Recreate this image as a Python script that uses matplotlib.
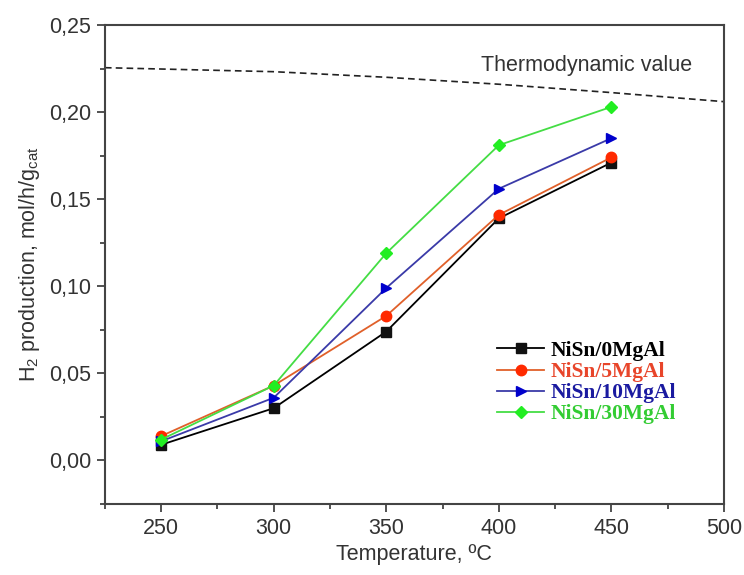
import matplotlib
matplotlib.use("Agg")
import matplotlib.pyplot as plt
from matplotlib.ticker import MultipleLocator, FuncFormatter

temps = [250, 300, 350, 400, 450]
ni0 = [0.009, 0.030, 0.074, 0.139, 0.171]
ni5 = [0.014, 0.043, 0.083, 0.141, 0.174]
ni10 = [0.011, 0.036, 0.099, 0.156, 0.185]
ni30 = [0.012, 0.043, 0.119, 0.181, 0.203]

thermo_t = [225, 300, 350, 400, 450, 500]
thermo_v = [0.2255, 0.2232, 0.2200, 0.2160, 0.2112, 0.2060]

labels = ["NiSn/0MgAl", "NiSn/5MgAl", "NiSn/10MgAl", "NiSn/30MgAl"]

plt.rcParams['font.family'] = ['Liberation Sans', 'DejaVu Sans']
plt.rcParams['mathtext.default'] = 'regular'

fig = plt.figure(figsize=(7.44, 5.75), dpi=100)
ax = fig.add_axes([0.141, 0.1235, 0.832, 0.833])

ax.plot(thermo_t, thermo_v, linestyle=(0, (4, 2.5)), color='#222222', lw=1.2)
ax.text(439, 0.2268, "Thermodynamic value", ha='center', va='center', fontsize=15.5, color='#333333')

series = [
    (ni0, 's', '#000000', '#111111', '#000000'),
    (ni5, 'o', '#e0602a', '#ff2a00', '#e8452a'),
    (ni10, '>', '#3a3aa8', '#0000cc', '#1a1aa0'),
    (ni30, 'D', '#44dd44', '#22ee22', '#33cc33'),
]
handles = []
for (vals, m, lc, mc, tc), lab in zip(series, labels):
    ms = 7.5 if m != 'D' else 6.5
    h, = ax.plot(temps, vals, marker=m, color=lc, markerfacecolor=mc,
                 markeredgecolor=mc, markersize=ms, lw=1.3, label=lab)
    handles.append(h)

leg = ax.legend(handles=handles, loc='upper left', bbox_to_anchor=(0.63, 0.345),
                frameon=False, handlelength=2.2, handletextpad=0.3, borderpad=0.1,
                borderaxespad=0.0,
                labelspacing=0.05, prop={'family': 'Liberation Serif', 'weight': 'bold', 'size': 15.5},
                labelcolor=[s[4] for s in series])

ax.set_xlim(225, 500)
ax.set_ylim(-0.025, 0.25)
ax.xaxis.set_major_locator(MultipleLocator(50))
ax.xaxis.set_minor_locator(MultipleLocator(25))
ax.yaxis.set_major_locator(MultipleLocator(0.05))
ax.yaxis.set_minor_locator(MultipleLocator(0.025))
ax.yaxis.set_major_formatter(FuncFormatter(lambda v, p: f"{v:.2f}".replace('.', ',').replace('-0,00', '0,00')))
ax.set_xticks([250, 300, 350, 400, 450, 500])

ax.tick_params(which='both', direction='out', top=False, right=False, colors='#333333', labelsize=15.5)
ax.tick_params(which='major', length=6, width=1.2, pad=4)
ax.tick_params(which='minor', length=3.5, width=1.2)
for s in ax.spines.values():
    s.set_linewidth(1.5)
    s.set_color('#444444')

ax.set_xlabel("Temperature, ºC", fontsize=15.5, color='#333333', labelpad=4)
ax.set_ylabel("H$_2$ production, mol/h/g$_{cat}$", fontsize=15.5, color='#333333', labelpad=5)

fig.savefig("out.png", dpi=100)
